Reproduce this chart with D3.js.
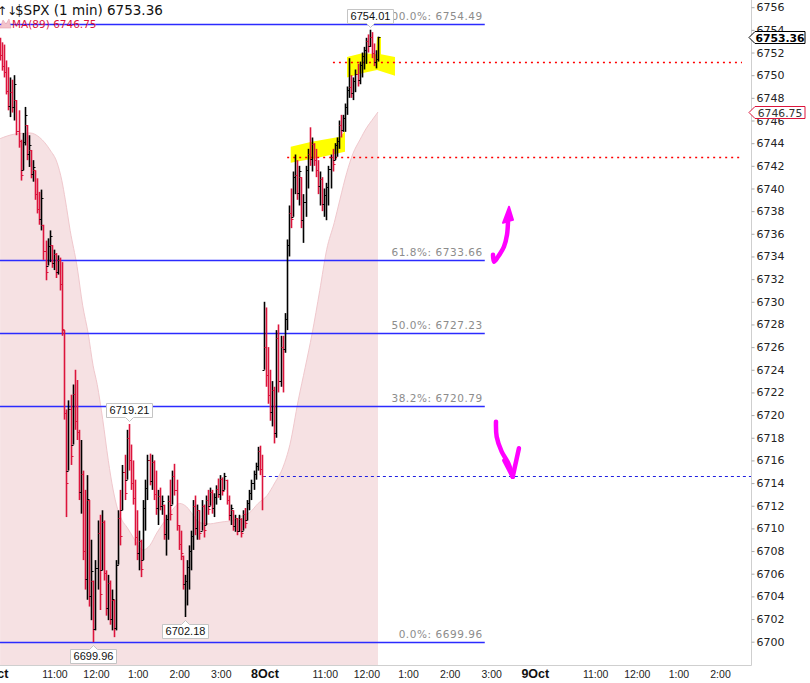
<!DOCTYPE html>
<html><head><meta charset="utf-8">
<script src="https://cdn.jsdelivr.net/npm/d3@7"></script>
<style>
html,body{margin:0;padding:0;background:#fff;}
svg{display:block;}
</style></head><body>
<svg id="c" width="810" height="683"></svg>
<script>
// ---------- DATA ----------
// time index = minutes of trading since 7 Oct 09:30 (sessions joined, 390 min per day)
const barStart = 9;      // first 3-minute bar starts at minute 9
const barStep = 3;
const firstOpen = 6752.8;
const hi = [
6753.3,6752.9,6752.7,6751.3,6750.7,6749.8,6749.6,6750.0,6747.8,6746.9,
6744.3,6744.9,6747.2,6745.6,6744.7,6743.4,6742.5,6741.6,6740.9,6739.7,
6739.9,6736.8,6735.4,6735.6,6736.3,6735.0,6734.6,6734.3,6734.1,6733.9,
6733.5,6727.5,6720.5,6721.3,6721.8,6722.7,6724.0,6723.1,6718.7,6717.8,
6715.1,6713.4,6714.7,6712.5,6709.0,6705.4,6707.2,6710.7,6711.2,6711.6,
6710.7,6706.3,6705.9,6705.4,6704.6,6703.7,6707.2,6711.6,6713.4,6715.6,
6716.5,6718.7,6719.21,6717.4,6716.0,6714.3,6711.6,6709.8,6709.0,6712.5,
6714.3,6716.5,6716.6,6716.5,6716.0,6715.1,6713.4,6713.6,6712.9,6712.1,
6711.2,6712.9,6714.3,6715.1,6715.7,6714.3,6710.3,6709.8,6707.6,6705.9,
6707.2,6708.5,6709.8,6712.5,6712.9,6712.1,6711.6,6712.5,6712.1,6712.9,
6713.4,6713.6,6713.4,6713.1,6713.8,6714.4,6714.7,6714.5,6714.9,6714.3,
6712.9,6712.1,6711.6,6711.2,6710.9,6711.2,6710.9,6711.6,6711.8,6712.5,
6713.4,6714.3,6715.1,6715.8,6717.2,6717.3,6716.5,6730.0,6729.5,6726.0,
6724.0,6723.0,6722.5,6727.5,6728.0,6727.0,6727.0,6729.0,6735.5,6738.5,
6740.0,6741.5,6743.0,6742.5,6742.0,6741.0,6739.5,6742.0,6743.5,6745.4,
6744.5,6744.0,6743.5,6742.5,6741.5,6741.0,6740.0,6740.5,6742.0,6743.0,
6743.5,6744.0,6744.5,6746.0,6746.5,6746.5,6747.5,6749.0,6751.5,6750.0,
6749.8,6750.5,6751.0,6751.2,6752.0,6752.5,6753.3,6753.6,6754.01,6753.8,
6752.8,6752.2,6753.4];
const lo = [
6751.3,6750.4,6749.8,6748.3,6746.9,6746.3,6746.7,6746.0,6744.7,6743.6,
6740.7,6741.6,6743.8,6742.5,6741.9,6740.9,6740.6,6739.0,6737.8,6736.8,
6736.3,6733.7,6731.9,6733.2,6733.5,6733.0,6732.8,6732.1,6732.4,6731.0,
6727.0,6719.6,6711.0,6715.1,6715.6,6717.4,6718.7,6717.8,6712.5,6711.3,
6707.2,6704.6,6703.7,6703.1,6701.9,6699.96,6701.0,6704.6,6702.8,6706.3,
6705.4,6702.3,6701.9,6701.5,6701.0,6700.4,6701.0,6706.8,6708.5,6711.6,
6712.5,6714.3,6715.1,6713.4,6712.1,6708.5,6707.2,6706.3,6705.7,6707.2,
6709.8,6712.5,6713.8,6713.4,6712.5,6711.2,6710.3,6711.6,6711.2,6709.0,
6707.6,6709.0,6710.7,6712.1,6712.9,6709.8,6708.1,6707.2,6704.6,6702.18,
6703.2,6704.6,6706.3,6708.1,6709.4,6709.0,6709.0,6709.8,6709.2,6710.3,
6711.2,6712.0,6711.3,6711.0,6712.1,6712.7,6712.5,6712.9,6713.4,6712.1,
6710.7,6710.3,6709.8,6709.7,6709.4,6709.7,6709.2,6709.8,6710.0,6710.7,
6711.6,6712.5,6713.4,6714.3,6715.1,6714.7,6711.6,6724.0,6722.5,6721.0,
6719.5,6719.0,6717.5,6718.0,6722.0,6722.5,6722.0,6725.5,6727.5,6734.0,
6736.5,6737.5,6739.5,6739.0,6738.5,6736.5,6735.2,6737.5,6740.0,6742.0,
6741.5,6742.0,6741.0,6739.5,6738.5,6738.0,6737.5,6737.2,6738.5,6740.0,
6741.5,6742.5,6742.8,6743.5,6744.5,6745.0,6745.0,6746.5,6748.0,6748.0,
6747.8,6748.5,6749.0,6749.2,6749.8,6750.5,6751.0,6752.0,6752.5,6751.5,
6750.8,6750.6,6751.2];
const cl = [
6751.8,6750.8,6750.3,6748.6,6747.3,6748.5,6747.2,6749.2,6745.1,6744.2,
6741.2,6744.1,6746.5,6743.0,6743.8,6741.3,6741.9,6739.5,6738.2,6737.3,
6739.2,6734.5,6732.6,6734.9,6735.8,6733.4,6734.2,6732.6,6733.7,6731.6,
6727.6,6720.2,6714.0,6720.5,6716.4,6721.9,6719.5,6718.5,6713.2,6714.8,
6708.0,6705.5,6712.6,6704.0,6706.2,6701.1,6706.5,6709.6,6704.2,6710.6,
6706.1,6703.0,6705.2,6702.0,6703.8,6701.2,6706.8,6710.9,6709.3,6715.0,
6713.1,6718.0,6716.0,6714.0,6712.7,6709.2,6707.8,6708.9,6706.4,6711.8,
6713.6,6716.0,6714.2,6715.9,6713.0,6711.8,6712.9,6712.0,6712.4,6709.5,
6710.8,6712.4,6711.3,6714.6,6713.4,6710.3,6708.6,6707.8,6705.1,6705.4,
6706.6,6708.0,6709.3,6712.0,6710.0,6711.6,6709.6,6712.0,6709.9,6712.5,
6711.7,6713.2,6711.8,6712.8,6713.5,6713.0,6714.4,6713.3,6714.6,6712.5,
6711.2,6711.8,6710.2,6710.9,6709.8,6710.8,6709.6,6711.3,6710.5,6712.2,
6713.1,6714.0,6714.8,6715.5,6716.8,6715.2,6714.59,6726.0,6723.5,6721.8,
6720.3,6722.2,6718.4,6726.8,6723.0,6726.0,6725.8,6728.5,6735.0,6737.8,
6737.3,6741.0,6741.2,6739.6,6741.5,6737.2,6738.8,6741.6,6743.0,6742.6,
6743.9,6742.5,6741.6,6740.2,6740.8,6738.6,6739.4,6740.1,6741.7,6742.8,
6742.2,6743.8,6744.2,6745.6,6745.2,6746.2,6747.2,6748.7,6749.0,6748.4,
6749.5,6750.1,6749.6,6750.9,6751.7,6752.2,6753.0,6752.6,6753.4,6752.0,
6751.2,6751.4,6753.36];

// MA(89) read at sample times
const maT = [11,32,54,68,83,93,100,105,112,122,130,138,145,151,159,167,174,180,187,194,203,210,217,227,237,249,259,270,280,289,299,314,324,335,347,360,371,383,396,407,419,429,441,451,461,472,482,493,501,511,520,530,540,547,556];
const maV = [6744.4,6744.8,6744.9,6744.5,6743.4,6742.3,6740.7,6739.0,6736.3,6733.1,6729.7,6727.2,6724.4,6722.7,6719.6,6716.0,6713.4,6711.8,6710.7,6710.1,6709.2,6708.5,6708.1,6708.5,6709.6,6710.7,6711.6,6712.2,6711.9,6711.2,6710.5,6710.4,6710.5,6710.6,6710.7,6711.1,6711.4,6712.2,6712.9,6714.0,6715.4,6717.4,6721.3,6724.2,6727.2,6731.0,6734.6,6737.0,6739.0,6741.4,6743.1,6744.3,6745.4,6746.0,6746.75];

// Fibonacci retracement
const fibPct = ["100.0%","61.8%","50.0%","38.2%","0.0%"];
const fibVal = [6754.49,6733.66,6727.23,6720.79,6699.96];
const fibEndT = 710;

// other levels
const dottedVal = [6751.16, 6742.78];
const dottedStartT = [491, 425];
const dottedEndT = 1081;
const prevClose = 6714.59;
const prevCloseStartT = 390;

const lastPrice = 6753.36;
const maLast = 6746.75;
const pointLabels = [6754.01, 6719.21, 6702.18, 6699.96];

// axis labels
const yTicks = d3.range(6700, 6757, 2);
const dayLabels = ["7Oct","8Oct","9Oct"];
const hourLabels = ["11:00","12:00","1:00","2:00","3:00"];
const hourOffsets = [90,150,210,270,330];
const sessionLen = 390;

// annotations (time, price)
const highlight1 = [[430.1,6743.69],[460.4,6744.13],[501.2,6744.57],[508.4,6745.07],[508.4,6743.25],[467.6,6742.69],[430.1,6742.28]];
const highlight2 = [[511.3,6751.6],[534.4,6751.95],[553.1,6751.85],[554.6,6753.36],[560.3,6753.36],[560.3,6751.85],[580.5,6751.6],[580.5,6749.95],[554.6,6750.45],[534.4,6750.2],[511.3,6749.8]];
const arrowUp = [[721.9,6734.15],[723.3,6733.53],[729.1,6733.97],[737.7,6734.86],[742.1,6735.92],[743.5,6737.06]];
const arrowUpHead = [[745.0,6738.39],[736.3,6736.97],[750.7,6737.24]];
const arrowDown = [[726.2,6719.42],[727.2,6718.09],[734.4,6716.77],[743.9,6715.75],[750.3,6714.56]];
const arrowDownArm = [[759.3,6717.07],[750.3,6714.56]];
const arrowDownArm2 = [[738.3,6716.0],[750.3,6714.56]];

// ---------- CHART ----------
const plotR = 751, plotB = 665;
const x = d3.scaleLinear().domain([0, 1080]).range([-7.5, 741.3]);
const y = d3.scaleLinear().domain([6700, 6756]).range([641.7, 7.2]);
const svg = d3.select("#c");
const defs = svg.append("defs");
defs.append("clipPath").attr("id","clip").append("rect")
  .attr("x",0).attr("y",0).attr("width",plotR).attr("height",plotB);
const g = svg.append("g").attr("clip-path","url(#clip)");

// MA area
const maData = maT.map((t,i)=>({t:t, v:maV[i]}));
g.append("path").datum(maData)
  .attr("d", d3.area().x(d=>x(d.t)).y0(plotB).y1(d=>y(d.v)).curve(d3.curveMonotoneX))
  .attr("fill","#f6e1e3");
g.append("path").datum(maData)
  .attr("d", d3.line().x(d=>x(d.t)).y(d=>y(d.v)).curve(d3.curveMonotoneX))
  .attr("fill","none").attr("stroke","#f0c8cd").attr("stroke-width",1);

// highlights
const px = p => [x(p[0]), y(p[1])];
[highlight1, highlight2].forEach(h=>{
  g.append("path").attr("d", "M" + h.map(px).map(a=>a.join(",")).join("L") + "Z")
    .attr("fill","#ffff00");
});

// fib lines
fibVal.forEach((v,i)=>{
  const yy = Math.round(y(v)) + 0.5;
  g.append("line").attr("x1",0).attr("x2",x(fibEndT)).attr("y1",yy).attr("y2",yy)
    .attr("stroke","#2b2bff").attr("stroke-width",1.5);
  g.append("text").attr("x",x(fibEndT)-2).attr("y",yy-4.5).attr("text-anchor","end")
    .attr("font-family","DejaVu Sans").attr("font-size",10.5).attr("letter-spacing",0.55)
    .attr("fill","#8c8c8c").text(fibPct[i] + ": " + v.toFixed(2));
});

// dotted red levels
dottedVal.forEach((v,i)=>{
  const yy = Math.round(y(v)) + 0.5;
  g.append("line").attr("x1",x(dottedStartT[i])).attr("x2",x(dottedEndT)).attr("y1",yy).attr("y2",yy)
    .attr("stroke","#ff0000").attr("stroke-width",1.5).attr("stroke-dasharray","2,4");
});
// previous close dashed blue
{
  const yy = Math.round(y(prevClose)) + 0.5;
  g.append("line").attr("x1",x(prevCloseStartT)).attr("x2",plotR).attr("y1",yy).attr("y2",yy)
    .attr("stroke","#2020e0").attr("stroke-width",1).attr("stroke-dasharray","3,3");
}

// OHLC bars
const bars = hi.map((h,j)=>{
  const l = lo[j], c = cl[j];
  const prev = j === 0 ? firstOpen : cl[j-1];
  const o = Math.max(l, Math.min(h, prev));
  return {t: barStart + barStep*j, h, l, o, c};
});
const bg = g.append("g");
bars.forEach(b=>{
  const xc = Math.round(x(b.t + barStep/2)) + 0.5;
  const yo = Math.round(y(b.o)) + 0.5, yc = Math.round(y(b.c)) + 0.5;
  const col = b.c >= b.o ? "#000" : "#dc143c";
  bg.append("path")
    .attr("d", `M${xc},${y(b.h)}V${y(b.l)}`)
    .attr("fill","none").attr("stroke", col).attr("stroke-width",1.6);
  bg.append("path")
    .attr("d", `M${xc-2},${yo}H${xc}M${xc},${yc}H${xc+2}`)
    .attr("fill","none").attr("stroke", col).attr("stroke-width",1);
});

// magenta arrows
const mline = d3.line().x(d=>x(d[0])).y(d=>y(d[1])).curve(d3.curveCatmullRom);
[arrowUp, arrowDown, arrowDownArm, arrowDownArm2].forEach(a=>{
  g.append("path").attr("d", mline(a)).attr("fill","none").attr("stroke","#ff00ff")
    .attr("stroke-width",4.5).attr("stroke-linecap","round").attr("stroke-linejoin","round");
});
g.append("path").attr("d","M" + arrowUpHead.map(px).map(a=>a.join(",")).join("L") + "Z")
  .attr("fill","#ff00ff").attr("stroke","#ff00ff").attr("stroke-width",2).attr("stroke-linejoin","round");

// point labels (high/low call-outs)
pointLabels.forEach(v=>{
  let j = hi.indexOf(v), above = true;
  if (j < 0) { j = lo.indexOf(v); above = false; }
  const xc = Math.round(x(barStart + barStep*j + barStep/2)) + 0.5;
  const yv = y(v);
  const w = 46, hgt = 14;
  const x0 = xc - w/2, x1 = xc + w/2;
  let d, ty;
  if (above) {
    const yb = Math.round(yv - 7) + 0.5, yt = yb - hgt;
    d = `M${x0},${yt}H${x1}V${yb}H${xc+4}L${xc},${yb+4}L${xc-4},${yb}H${x0}Z`;
    ty = yb - 3.5;
  } else {
    const yt = Math.round(yv + 7) + 0.5, yb = yt + hgt;
    d = `M${x0},${yt}H${xc-4}L${xc},${yt-4}L${xc+4},${yt}H${x1}V${yb}H${x0}Z`;
    ty = yb - 3.5;
  }
  svg.append("path").attr("d", d).attr("fill","#fff").attr("stroke","#c4c4c4").attr("stroke-width",1);
  svg.append("text").attr("x",xc).attr("y",ty).attr("text-anchor","middle")
    .attr("font-family","Liberation Sans, Arial").attr("font-size",11).attr("fill","#111")
    .text(v.toFixed(2));
});

// frame
svg.append("line").attr("x1",plotR+0.5).attr("x2",plotR+0.5).attr("y1",0).attr("y2",plotB+0.5)
  .attr("stroke","#cfcfcf");
svg.append("line").attr("x1",0).attr("x2",plotR+0.5).attr("y1",plotB+0.5).attr("y2",plotB+0.5)
  .attr("stroke","#cfcfcf");

// right axis
const ax = svg.append("g").attr("transform",`translate(${plotR+0.5},0)`)
  .call(d3.axisRight(y).tickValues(yTicks).tickSize(3).tickPadding(2).tickFormat(d3.format("d")));
ax.select(".domain").remove();
ax.selectAll("line").attr("stroke","#aaa");
ax.selectAll("text").attr("font-family","DejaVu Sans").attr("font-size",11).attr("fill","#222");

// price tags
function tag(v, label, stroke, bold, color) {
  const cy = Math.round(y(v)) + 0.5;
  svg.append("path").attr("d",`M749,${cy}L755,${cy-6}H805V${cy+6}H755Z`)
    .attr("fill","#fff").attr("stroke",stroke).attr("stroke-width",1);
  svg.append("text").attr("x",780).attr("y",cy+4).attr("text-anchor","middle")
    .attr("font-family","DejaVu Sans").attr("font-size",10.8).attr("font-weight",bold?"bold":"normal")
    .attr("fill",color).text(label);
}
tag(maLast, maLast.toFixed(2), "#dc143c", false, "#333");
tag(lastPrice, lastPrice.toFixed(2), "#000", true, "#000");

// x axis labels
dayLabels.forEach((dl, d)=>{
  const base = d * sessionLen;
  const dx = x(base);
  if (dx < plotR - 10) {
    svg.append("text").attr("x",dx+2).attr("y",678).attr("text-anchor","middle")
      .attr("font-family","Liberation Sans, Arial").attr("font-size",12.5).attr("font-weight","bold")
      .attr("fill","#111").text(dl);
  }
  hourLabels.forEach((hl, k)=>{
    const hx = x(base + hourOffsets[k]);
    if (hx < plotR - 10) {
      svg.append("text").attr("x",hx).attr("y",677.5).attr("text-anchor","middle")
        .attr("font-family","Liberation Sans, Arial").attr("font-size",10.5)
        .attr("fill","#222").text(hl);
    }
  });
});
svg.append("text").attr("x",758).attr("y",692).attr("font-family","DejaVu Sans")
  .attr("font-size",11).attr("font-weight","bold").attr("fill","#222").text("00.00");

// title & legend
svg.append("text").attr("x",-3).attr("y",15).attr("font-family","DejaVu Sans").attr("font-size",12)
  .attr("fill","#111").text("↑↓");
svg.append("text").attr("x",15).attr("y",15).attr("font-family","DejaVu Sans").attr("font-size",13.5)
  .attr("fill","#111").text("$SPX (1 min) " + lastPrice.toFixed(2));
svg.append("path").attr("d","M0,28L3,20L6,24L9,19L11,28Z").attr("fill","#f3c3cb").attr("stroke","#e7a0ad").attr("stroke-width",0.6);
svg.append("text").attr("x",12).attr("y",28).attr("font-family","DejaVu Sans").attr("font-size",10.5)
  .attr("fill","#dc143c").text("MA(89) " + maLast.toFixed(2));
</script>
</body></html>
